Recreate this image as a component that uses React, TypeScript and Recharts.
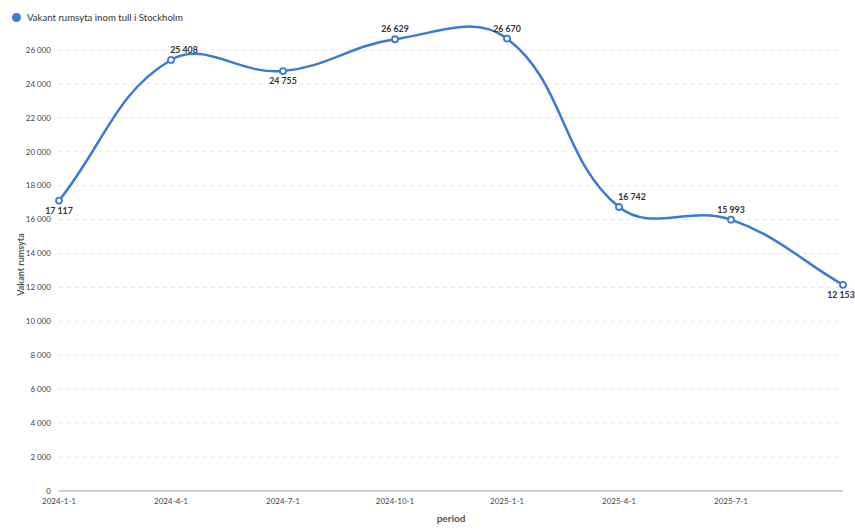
import React from "react";
import {
  LineChart,
  Line,
  XAxis,
  YAxis,
  CartesianGrid,
  LabelList,
} from "recharts";

const periods = [
  "2024-1-1",
  "2024-4-1",
  "2024-7-1",
  "2024-10-1",
  "2025-1-1",
  "2025-4-1",
  "2025-7-1",
  "2025-10-1",
];
const vacantArea = [17117, 25408, 24755, 26629, 26670, 16742, 15993, 12153];
const yTicks = [0, 2000, 4000, 6000, 8000, 10000, 12000, 14000, 16000, 18000, 20000, 22000, 24000, 26000];

const seriesName = "Vakant rumsyta inom tull i Stockholm";
const lineColor = "#3a7bd5";
const fontFamily = "Lato, 'Open Sans', sans-serif";
const TENSION = 0.4;

const data = periods.map((p, i) => ({ period: p, value: vacantArea[i] }));

const fmt = (v: number) => String(v).replace(/\B(?=(\d{3})+(?!\d))/g, " ");

// cardinal-ish spline (control points from neighbours, weighted by segment length)
function tensionCurve(context: any) {
  let pts: number[][] = [];
  return {
    areaStart() {},
    areaEnd() {},
    lineStart() {
      pts = [];
    },
    point(x: number, y: number) {
      pts.push([+x, +y]);
    },
    lineEnd() {
      const n = pts.length;
      if (!n) return;
      const cpIn: number[][] = [];
      const cpOut: number[][] = [];
      for (let i = 0; i < n; i++) {
        const prev = pts[Math.max(i - 1, 0)];
        const cur = pts[i];
        const next = pts[Math.min(i + 1, n - 1)];
        const d01 = Math.hypot(cur[0] - prev[0], cur[1] - prev[1]);
        const d12 = Math.hypot(next[0] - cur[0], next[1] - cur[1]);
        let s01 = d01 / (d01 + d12);
        let s12 = d12 / (d01 + d12);
        if (isNaN(s01)) s01 = 0;
        if (isNaN(s12)) s12 = 0;
        const fa = TENSION * s01;
        const fb = TENSION * s12;
        cpIn.push([cur[0] - fa * (next[0] - prev[0]), cur[1] - fa * (next[1] - prev[1])]);
        cpOut.push([cur[0] + fb * (next[0] - prev[0]), cur[1] + fb * (next[1] - prev[1])]);
      }
      context.moveTo(pts[0][0], pts[0][1]);
      for (let i = 1; i < n; i++) {
        context.bezierCurveTo(cpOut[i - 1][0], cpOut[i - 1][1], cpIn[i][0], cpIn[i][1], pts[i][0], pts[i][1]);
      }
    },
  };
}

function PointLabel(props: any) {
  const { x, y, value, index } = props;
  const prev = index > 0 ? vacantArea[index - 1] : null;
  const next = index < vacantArea.length - 1 ? vacantArea[index + 1] : null;
  // below when the point is lower than its neighbours
  const below = (prev === null || value < prev) && (next === null || value < next);
  // nudge right when the line comes in steeply from the left
  const dx = !below && prev !== null && Math.abs(value - prev) > 5000 ? 13 : 0;
  const tx = Math.min(x + dx, 855 - 14);
  return (
    <text
      x={tx}
      y={below ? y + 13 : y - 7}
      textAnchor="middle"
      fontSize={8.8}
      fontWeight={700}
      fill="#333"
      fontFamily={fontFamily}
    >
      {fmt(value)}
    </text>
  );
}

function YLabel(props: any) {
  const { viewBox } = props;
  const cy = viewBox.y + viewBox.height / 2 + 11;
  const cx = 20;
  return (
    <text
      x={cx}
      y={cy}
      transform={`rotate(-90 ${cx} ${cy})`}
      textAnchor="middle"
      dominantBaseline="central"
      fontSize={9}
      fontWeight={700}
      fill="#555"
      fontFamily={fontFamily}
    >
      Vakant rumsyta
    </text>
  );
}

export default function App() {
  return (
    <div style={{ position: "absolute", left: 0, top: 0, width: 855, height: 531, background: "#fff" }}>
      <div
        style={{
          position: "absolute",
          left: 12,
          top: 12,
          display: "flex",
          alignItems: "center",
          fontFamily,
          fontSize: 9.6,
          color: "#333",
        }}
      >
        <span
          style={{
            display: "inline-block",
            width: 9,
            height: 9,
            borderRadius: "50%",
            background: lineColor,
            marginRight: 6,
          }}
        />
        {seriesName}
      </div>
      <LineChart
        width={855}
        height={531}
        data={data}
        margin={{ top: 16, right: 12, bottom: 9, left: 0 }}
      >
        <CartesianGrid
          vertical={false}
          horizontalValues={yTicks.slice(1)}
          stroke="#e6e6e6"
          strokeDasharray="4 4"
        />
        <XAxis
          dataKey="period"
          interval={0}
          tickLine={false}
          axisLine={{ stroke: "#999" }}
          tick={{ fontSize: 8, fill: "#444", fontFamily }}
          tickFormatter={(v: string, i: number) => (i === periods.length - 1 ? "" : v)}
          tickMargin={1}
          height={31}
          label={{
            value: "period",
            position: "insideBottom",
            offset: 0,
            style: { fontSize: 10, fontWeight: 700, fill: "#555", fontFamily },
          }}
        />
        <YAxis
          width={59}
          domain={[0, 28000]}
          ticks={yTicks}
          interval={0}
          axisLine={false}
          tickLine={false}
          tick={{ fontSize: 8, fill: "#444", fontFamily }}
          tickFormatter={(v: number) => fmt(v)}
          label={<YLabel />}
        />
        <Line
          type={tensionCurve as any}
          dataKey="value"
          name={seriesName}
          stroke={lineColor}
          strokeWidth={2.5}
          dot={{ r: 3, fill: "#fff", stroke: lineColor, strokeWidth: 1.8 }}
          activeDot={false}
          isAnimationActive={false}
        >
          <LabelList dataKey="value" content={<PointLabel />} />
        </Line>
      </LineChart>
    </div>
  );
}
